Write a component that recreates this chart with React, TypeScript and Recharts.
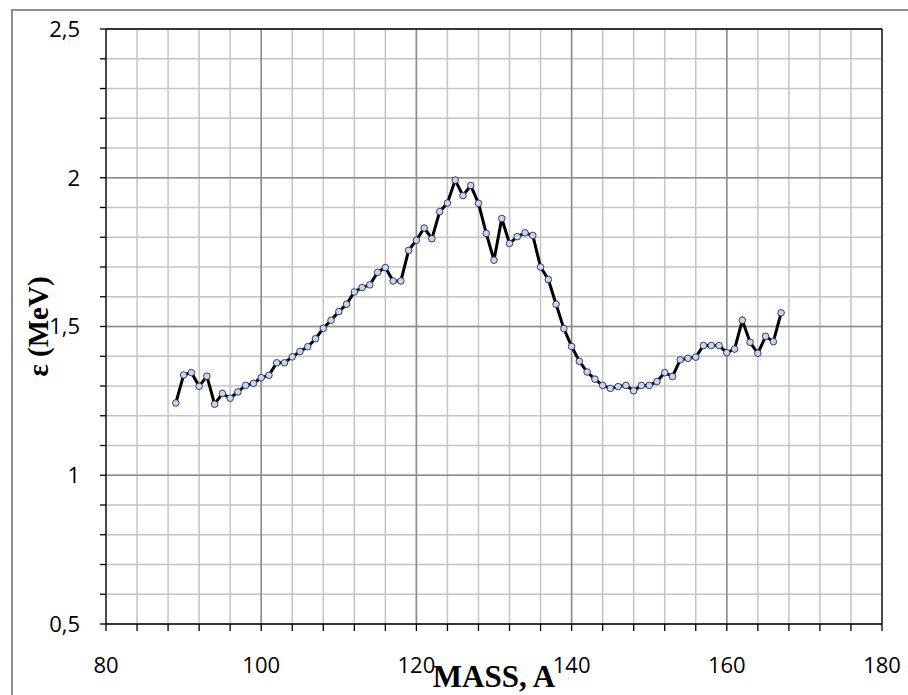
import React from 'react';
import { LineChart, Line, XAxis, YAxis, CartesianGrid } from 'recharts';

const masses = [
  89, 90, 91, 92, 93, 94, 95, 96, 97, 98, 99, 100, 101, 102, 103, 104, 105, 106, 107, 108,
  109, 110, 111, 112, 113, 114, 115, 116, 117, 118, 119, 120, 121, 122, 123, 124, 125, 126, 127, 128,
  129, 130, 131, 132, 133, 134, 135, 136, 137, 138, 139, 140, 141, 142, 143, 144, 145, 146, 147, 148,
  149, 150, 151, 152, 153, 154, 155, 156, 157, 158, 159, 160, 161, 162, 163, 164, 165, 166, 167,
];

const epsilon = [
  1.243, 1.337, 1.345, 1.299, 1.333, 1.239, 1.275, 1.259, 1.28, 1.302, 1.309, 1.328, 1.336, 1.378, 1.378, 1.398, 1.416, 1.432, 1.459, 1.494,
  1.521, 1.55, 1.575, 1.616, 1.631, 1.64, 1.682, 1.698, 1.653, 1.653, 1.756, 1.79, 1.831, 1.795, 1.886, 1.915, 1.992, 1.94, 1.974, 1.914,
  1.813, 1.723, 1.863, 1.779, 1.802, 1.815, 1.806, 1.7, 1.658, 1.575, 1.493, 1.433, 1.383, 1.347, 1.323, 1.302, 1.292, 1.298, 1.302, 1.284,
  1.302, 1.302, 1.315, 1.345, 1.332, 1.388, 1.393, 1.397, 1.436, 1.436, 1.436, 1.412, 1.424, 1.521, 1.447, 1.41, 1.467, 1.449, 1.546,
];

const xTicks = [80, 84, 88, 92, 96, 100, 104, 108, 112, 116, 120, 124, 128, 132, 136, 140, 144, 148, 152, 156, 160, 164, 168, 172, 176, 180];
const xMajor = [100, 120, 140, 160];
const yTicks = [0.5, 0.6, 0.7, 0.8, 0.9, 1, 1.1, 1.2, 1.3, 1.4, 1.5, 1.6, 1.7, 1.8, 1.9, 2, 2.1, 2.2, 2.3, 2.4, 2.5];
const yMajor = [1, 1.5, 2];
const xLabelValues = [80, 100, 120, 140, 160, 180];
const yLabelValues = [0.5, 1, 1.5, 2, 2.5];

const data = masses.map((m, i) => ({ mass: m, eps: epsilon[i] }));

const tickFont = { fontFamily: '"Open Sans", "Liberation Sans", sans-serif', fontSize: 22, fill: '#000' };

const fmtX = (v: number) => (xLabelValues.includes(v) ? String(v) : '');
const fmtY = (v: number) =>
  yLabelValues.some((t) => Math.abs(t - v) < 1e-6) ? String(v).replace('.', ',') : '';

export default function App() {
  return (
    <div style={{ position: 'absolute', left: 0, top: 0, width: 908, height: 695, overflow: 'hidden', background: '#fff' }}>
      <div
        style={{
          position: 'absolute',
          left: 11,
          top: 9,
          width: 940,
          height: 740,
          border: '2px solid #8e8e8e',
          boxSizing: 'border-box',
        }}
      />
      <div style={{ position: 'absolute', left: 0, top: 0 }}>
        <LineChart width={908} height={695} data={data} margin={{ top: 29, right: 26, left: 0, bottom: 0 }}>
          <CartesianGrid stroke="#c4c4c4" strokeWidth={1.5} />
          <CartesianGrid stroke="#8c8c8c" strokeWidth={1.5} verticalValues={xMajor} horizontalValues={yMajor} />
          <CartesianGrid stroke="#000" strokeWidth={1.3} verticalValues={[180]} horizontalValues={[2.5]} />
          <XAxis
            dataKey="mass"
            type="number"
            domain={[80, 180]}
            ticks={xTicks}
            interval={0}
            tickFormatter={fmtX}
            height={71}
            tickSize={7}
            tickMargin={26}
            axisLine={{ stroke: '#000', strokeWidth: 1.3 }}
            tickLine={{ stroke: '#000', strokeWidth: 1.3 }}
            tick={tickFont}
            label={{
              content: (props: any) => {
                const vb = props.viewBox || {};
                return (
                  <text
                    x={vb.x + vb.width / 2}
                    y={vb.y + vb.height - 8}
                    textAnchor="middle"
                    style={{ fontFamily: '"Liberation Serif", "DejaVu Serif", serif', fontWeight: 'bold', fontSize: 31, fill: '#000' }}
                  >
                    MASS, A
                  </text>
                );
              },
            }}
          />
          <YAxis
            type="number"
            domain={[0.5, 2.5]}
            ticks={yTicks}
            interval={0}
            tickFormatter={fmtY}
            width={106}
            tickSize={6}
            tickMargin={20}
            axisLine={{ stroke: '#000', strokeWidth: 1.3 }}
            tickLine={{ stroke: '#000', strokeWidth: 1.3 }}
            tick={tickFont}
            label={{
              content: (props: any) => {
                const vb = props.viewBox || {};
                const cx = 48;
                const cy = vb.y + vb.height / 2;
                return (
                  <text
                    x={cx}
                    y={cy}
                    transform={`rotate(-90, ${cx}, ${cy})`}
                    textAnchor="middle"
                    style={{ fontFamily: '"Liberation Serif", "DejaVu Serif", serif', fontWeight: 'bold', fontSize: 29, fill: '#000' }}
                  >
                    ε (MeV)
                  </text>
                );
              },
            }}
          />
          <Line
            type="linear"
            dataKey="eps"
            stroke="#000"
            strokeWidth={3}
            dot={{ r: 3.3, fill: '#c5d7f0', stroke: '#1f2f52', strokeWidth: 0.9 }}
            activeDot={false}
            isAnimationActive={false}
          />
        </LineChart>
      </div>
    </div>
  );
}
